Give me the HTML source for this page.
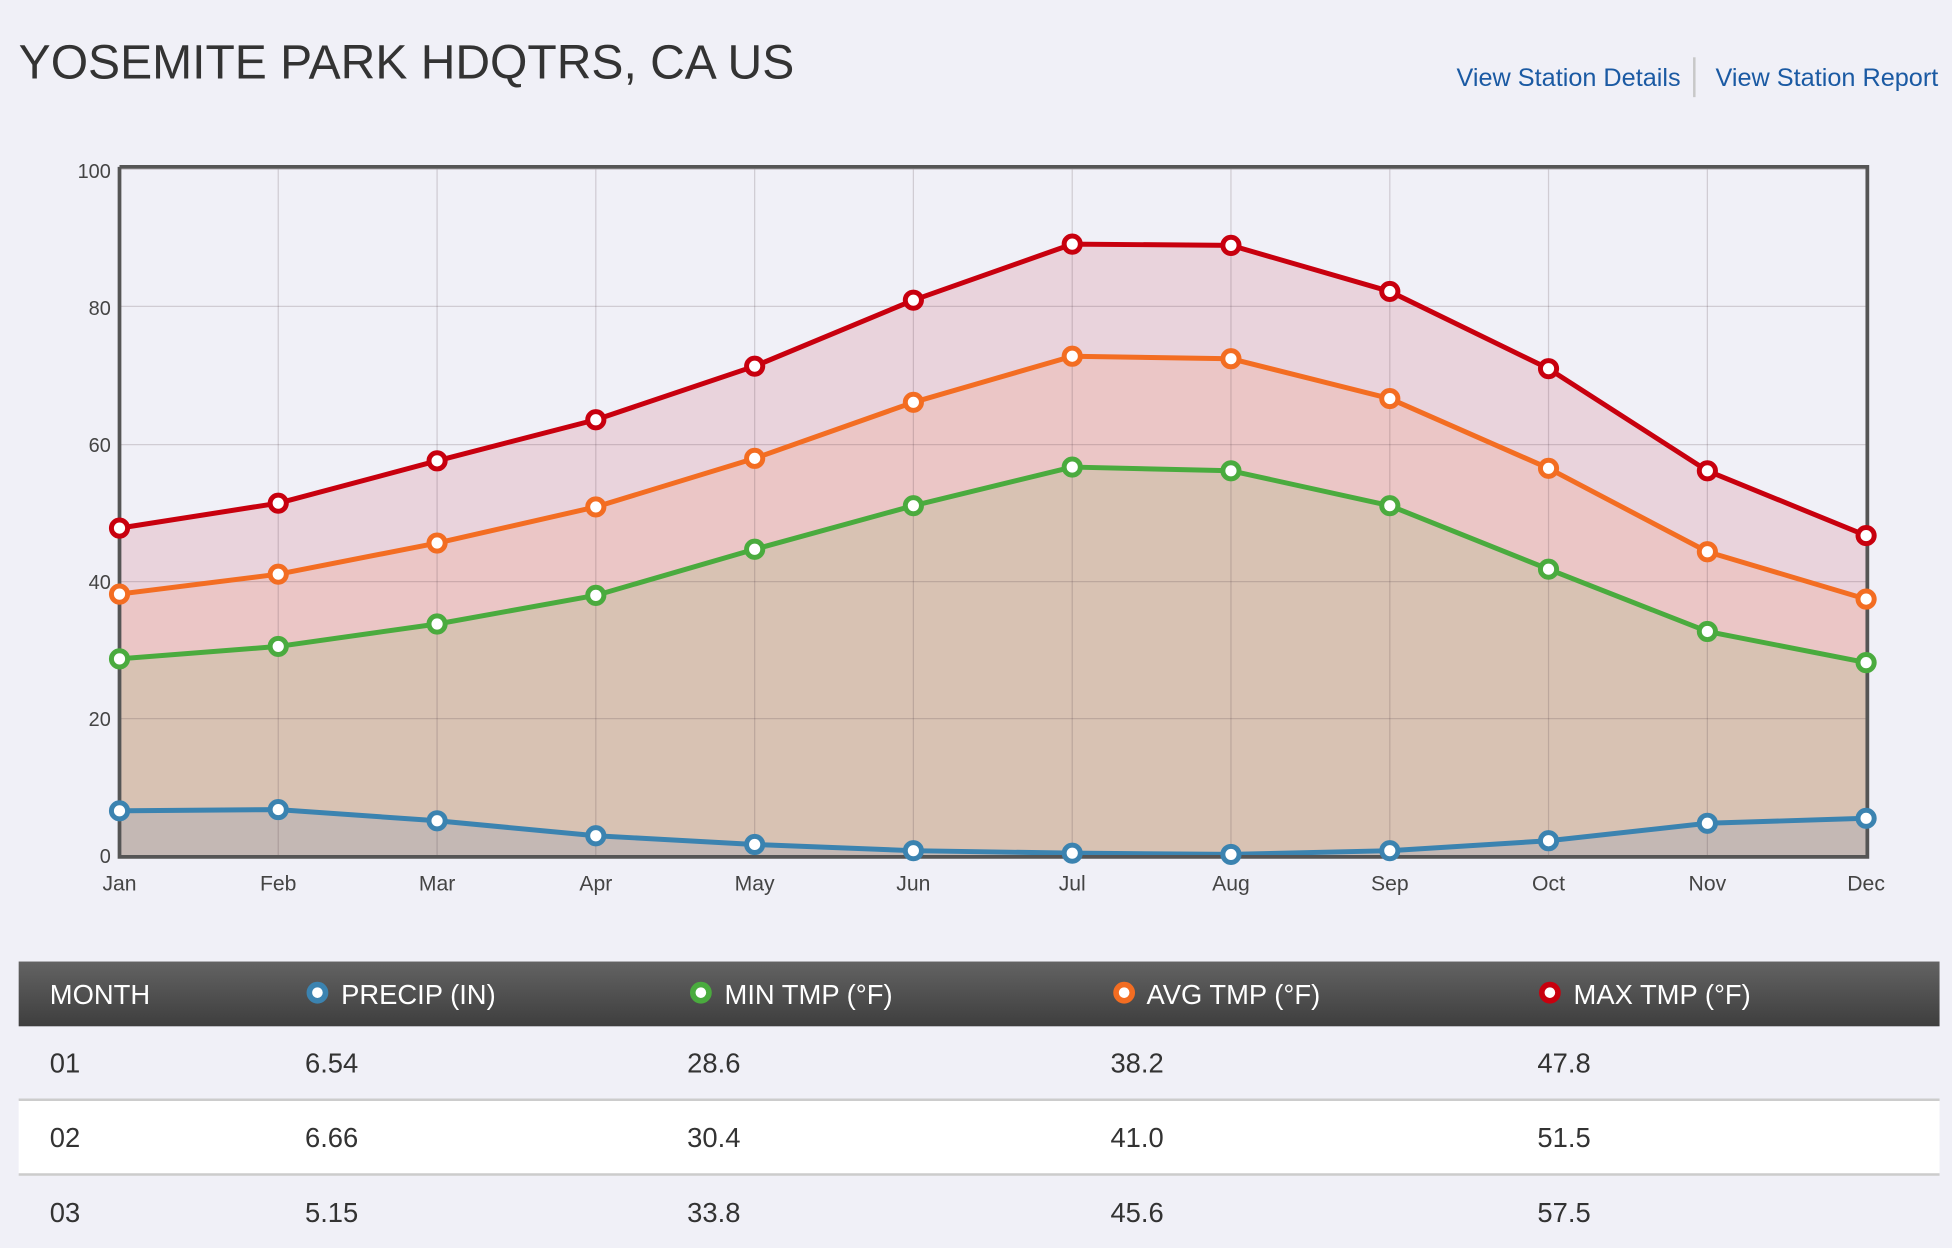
<!DOCTYPE html>
<html><head><meta charset="utf-8"><style>
html,body{margin:0;padding:0;background:#f0f0f7;overflow:hidden}
svg{display:block}
text{font-family:"Liberation Sans",sans-serif}
</style></head><body>
<svg width="1952" height="1248" viewBox="0 0 1568 1002" preserveAspectRatio="none" xmlns="http://www.w3.org/2000/svg">
<defs>
<linearGradient id="hd" x1="0" y1="0" x2="0" y2="1"><stop offset="0" stop-color="#636363"/><stop offset="1" stop-color="#3e3e3e"/></linearGradient>
</defs>
<rect width="1568" height="1002" fill="#f0f0f7"/>
<text x="15" y="63" font-size="39" fill="#333" textLength="623" lengthAdjust="spacingAndGlyphs">YOSEMITE PARK HDQTRS, CA US</text>
<text x="1170" y="69" font-size="20" fill="#1b5aa3" textLength="180" lengthAdjust="spacingAndGlyphs">View Station Details</text>
<line x1="1361" y1="46" x2="1361" y2="78" stroke="#c8c8c8" stroke-width="2"/>
<text x="1378" y="69" font-size="20" fill="#1b5aa3" textLength="179" lengthAdjust="spacingAndGlyphs">View Station Report</text>

<!-- plot bg -->
<rect x="96" y="136" width="1403" height="551" fill="#f0f0f7"/>
<!-- fills -->
<polygon fill="#e9d3dc" points="96,687 96,424 223.5,404 351.1,370 478.6,337 606.2,294 733.7,241 861.3,196 988.8,197 1116.4,234 1243.9,296 1371.5,378 1499,430 1499,687"/>
<polygon fill="#ebc6c6" points="96,687 96,477 223.5,461 351.1,436 478.6,407 606.2,368 733.7,323 861.3,286 988.8,288 1116.4,320 1243.9,376 1371.5,443 1499,481 1499,687"/>
<polygon fill="#d8c2b3" points="96,687 96,529 223.5,519 351.1,501 478.6,478 606.2,441 733.7,406 861.3,375 988.8,378 1116.4,406 1243.9,457 1371.5,507 1499,532 1499,687"/>
<polygon fill="#c4b8b4" points="96,687 96,651 223.5,650 351.1,659 478.6,671 606.2,678 733.7,683 861.3,685 988.8,686 1116.4,683 1243.9,675 1371.5,661 1499,657 1499,687"/>
<!-- grid -->
<g stroke="rgba(80,60,70,0.2)" stroke-width="1">
<line x1="96" y1="136" x2="1499" y2="136"/><line x1="96" y1="246" x2="1499" y2="246"/><line x1="96" y1="357" x2="1499" y2="357"/><line x1="96" y1="467" x2="1499" y2="467"/><line x1="96" y1="577" x2="1499" y2="577"/>
<line x1="223.5" y1="136" x2="223.5" y2="687"/><line x1="351.1" y1="136" x2="351.1" y2="687"/><line x1="478.6" y1="136" x2="478.6" y2="687"/><line x1="606.2" y1="136" x2="606.2" y2="687"/><line x1="733.7" y1="136" x2="733.7" y2="687"/><line x1="861.3" y1="136" x2="861.3" y2="687"/><line x1="988.8" y1="136" x2="988.8" y2="687"/><line x1="1116.4" y1="136" x2="1116.4" y2="687"/><line x1="1243.9" y1="136" x2="1243.9" y2="687"/><line x1="1371.5" y1="136" x2="1371.5" y2="687"/>
</g>
<!-- lines -->
<g fill="none" stroke-width="4" stroke-linejoin="round">
<polyline stroke="#c8000e" points="96,424 223.5,404 351.1,370 478.6,337 606.2,294 733.7,241 861.3,196 988.8,197 1116.4,234 1243.9,296 1371.5,378 1499,430"/>
<polyline stroke="#f36d22" points="96,477 223.5,461 351.1,436 478.6,407 606.2,368 733.7,323 861.3,286 988.8,288 1116.4,320 1243.9,376 1371.5,443 1499,481"/>
<polyline stroke="#4aab3e" points="96,529 223.5,519 351.1,501 478.6,478 606.2,441 733.7,406 861.3,375 988.8,378 1116.4,406 1243.9,457 1371.5,507 1499,532"/>
<polyline stroke="#3b83b0" points="96,651 223.5,650 351.1,659 478.6,671 606.2,678 733.7,683 861.3,685 988.8,686 1116.4,683 1243.9,675 1371.5,661 1499,657"/>
</g>
<!-- axes -->
<polyline fill="none" stroke="#555" stroke-width="3" points="96,134 96,688 1500,688 1500,134 96,134"/>
<g fill="#fff" stroke-width="4">
<g stroke="#c8000e"><circle cx="96" cy="424" r="6.5"/><circle cx="223.5" cy="404" r="6.5"/><circle cx="351.1" cy="370" r="6.5"/><circle cx="478.6" cy="337" r="6.5"/><circle cx="606.2" cy="294" r="6.5"/><circle cx="733.7" cy="241" r="6.5"/><circle cx="861.3" cy="196" r="6.5"/><circle cx="988.8" cy="197" r="6.5"/><circle cx="1116.4" cy="234" r="6.5"/><circle cx="1243.9" cy="296" r="6.5"/><circle cx="1371.5" cy="378" r="6.5"/><circle cx="1499" cy="430" r="6.5"/></g>
<g stroke="#f36d22"><circle cx="96" cy="477" r="6.5"/><circle cx="223.5" cy="461" r="6.5"/><circle cx="351.1" cy="436" r="6.5"/><circle cx="478.6" cy="407" r="6.5"/><circle cx="606.2" cy="368" r="6.5"/><circle cx="733.7" cy="323" r="6.5"/><circle cx="861.3" cy="286" r="6.5"/><circle cx="988.8" cy="288" r="6.5"/><circle cx="1116.4" cy="320" r="6.5"/><circle cx="1243.9" cy="376" r="6.5"/><circle cx="1371.5" cy="443" r="6.5"/><circle cx="1499" cy="481" r="6.5"/></g>
<g stroke="#4aab3e"><circle cx="96" cy="529" r="6.5"/><circle cx="223.5" cy="519" r="6.5"/><circle cx="351.1" cy="501" r="6.5"/><circle cx="478.6" cy="478" r="6.5"/><circle cx="606.2" cy="441" r="6.5"/><circle cx="733.7" cy="406" r="6.5"/><circle cx="861.3" cy="375" r="6.5"/><circle cx="988.8" cy="378" r="6.5"/><circle cx="1116.4" cy="406" r="6.5"/><circle cx="1243.9" cy="457" r="6.5"/><circle cx="1371.5" cy="507" r="6.5"/><circle cx="1499" cy="532" r="6.5"/></g>
<g stroke="#3b83b0"><circle cx="96" cy="651" r="6.5"/><circle cx="223.5" cy="650" r="6.5"/><circle cx="351.1" cy="659" r="6.5"/><circle cx="478.6" cy="671" r="6.5"/><circle cx="606.2" cy="678" r="6.5"/><circle cx="733.7" cy="683" r="6.5"/><circle cx="861.3" cy="685" r="6.5"/><circle cx="988.8" cy="686" r="6.5"/><circle cx="1116.4" cy="683" r="6.5"/><circle cx="1243.9" cy="675" r="6.5"/><circle cx="1371.5" cy="661" r="6.5"/><circle cx="1499" cy="657" r="6.5"/></g>
</g>
<!-- y labels -->
<g font-size="16" fill="#444" text-anchor="end">
<text x="89" y="143">100</text><text x="89" y="253">80</text><text x="89" y="363">60</text><text x="89" y="473">40</text><text x="89" y="583">20</text><text x="89" y="693">0</text>
</g>
<g font-size="17" fill="#444" text-anchor="middle">
<text x="96" y="715">Jan</text><text x="223.5" y="715">Feb</text><text x="351.1" y="715">Mar</text><text x="478.6" y="715">Apr</text><text x="606.2" y="715">May</text><text x="733.7" y="715">Jun</text><text x="861.3" y="715">Jul</text><text x="988.8" y="715">Aug</text><text x="1116.4" y="715">Sep</text><text x="1243.9" y="715">Oct</text><text x="1371.5" y="715">Nov</text><text x="1499" y="715">Dec</text>
</g>
<!-- table -->
<rect x="15" y="772" width="1543" height="52" fill="url(#hd)"/>
<g font-size="22" fill="#fff">
<text x="40" y="806">MONTH</text>
<text x="274" y="806">PRECIP (IN)</text>
<text x="582" y="806">MIN TMP (°F)</text>
<text x="921" y="806">AVG TMP (°F)</text>
<text x="1264" y="806">MAX TMP (°F)</text>
</g>
<g fill="#fff" stroke-width="4.5">
<circle cx="255" cy="797" r="6.5" stroke="#3b83b0"/>
<circle cx="563" cy="797" r="6.5" stroke="#4aab3e"/>
<circle cx="903" cy="797" r="6.5" stroke="#f36d22"/>
<circle cx="1245" cy="797" r="6.5" stroke="#c8000e"/>
</g>
<rect x="15" y="883" width="1543" height="60" fill="#fff"/>
<line x1="15" y1="883" x2="1558" y2="883" stroke="#ccc" stroke-width="2"/>
<line x1="15" y1="943" x2="1558" y2="943" stroke="#ccc" stroke-width="2"/>
<g font-size="22" fill="#333">
<text x="40" y="861">01</text><text x="245" y="861">6.54</text><text x="552" y="861">28.6</text><text x="892" y="861">38.2</text><text x="1235" y="861">47.8</text>
<text x="40" y="921">02</text><text x="245" y="921">6.66</text><text x="552" y="921">30.4</text><text x="892" y="921">41.0</text><text x="1235" y="921">51.5</text>
<text x="40" y="981">03</text><text x="245" y="981">5.15</text><text x="552" y="981">33.8</text><text x="892" y="981">45.6</text><text x="1235" y="981">57.5</text>
</g>
</svg>
</body></html>
